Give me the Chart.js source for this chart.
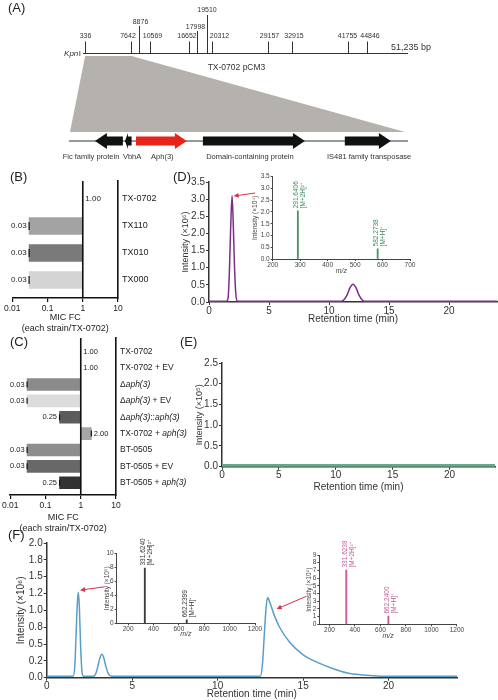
<!DOCTYPE html>
<html>
<head>
<meta charset="utf-8">
<script src="https://cdn.jsdelivr.net/npm/chart.js@4.4.1/dist/chart.umd.min.js"></script>
<style>
  html, body { margin: 0; padding: 0; background: #fff; }
  #fig { position: relative; width: 498px; height: 700px; overflow: hidden; background: #fff; }
  #fig canvas { position: absolute; }
</style>
</head>
<body>
<div id="fig">
  <canvas id="chartA"></canvas>
  <canvas id="chartB"></canvas>
  <canvas id="chartC"></canvas>
  <canvas id="chartD"></canvas>
  <canvas id="chartDi"></canvas>
  <canvas id="chartE"></canvas>
  <canvas id="chartF"></canvas>
  <canvas id="chartF1"></canvas>
  <canvas id="chartF2"></canvas>
</div>
<script>
// ---- (A) plasmid map ----
const plasmidName = 'TX-0702 pCM3';
const plasmidLength = 51235;
const siteLabels = ['336', '7642', '8876', '10569', '16652', '17998', '19510', '20312', '29157', '32915', '41755', '44846'];
const sitePositions = [336, 7642, 8876, 10569, 16652, 17998, 19510, 20312, 29157, 32915, 41755, 44846];
const insertStart = 336;
const insertEnd = 7642;
const geneNames = ['Fic family protein', 'VbhA', 'Aph(3)', 'Domain-containing protein', 'IS481 family transposase'];
const geneStarts = [880, 1535, 1775, 3235, 6330];
const geneEnds = [1490, 1680, 2885, 5460, 7335];
const geneStrands = [-1, -1, 1, 1, 1];

// ---- (B) / (C) MIC fold change ----
const micTicks = [0.01, 0.1, 1, 10];
const strainsB = ['TX-0702', 'TX110', 'TX010', 'TX000'];
const micB = [1.00, 0.03, 0.03, 0.03];
const strainsC = ['TX-0702', 'TX-0702 + EV', 'Δaph(3)', 'Δaph(3) + EV', 'Δaph(3)::aph(3)',
                  'TX-0702 + aph(3)', 'BT-0505', 'BT-0505 + EV', 'BT-0505 + aph(3)'];
const micC = [1.00, 1.00, 0.03, 0.03, 0.25, 2.00, 0.03, 0.03, 0.25];

// ---- (D) chromatogram + MS inset ----
const retentionTicks = [0, 5, 10, 15, 20];
const timeD = [0, 1.45, 1.6, 1.7, 1.8, 1.92, 2.02, 2.12, 2.22, 2.35, 2.6, 10.9, 11.2, 11.5, 11.75, 12.0, 12.25, 12.5, 12.8, 13.1, 24];
const intensityD = [0.02, 0.02, 0.15, 0.9, 2.1, 3.1, 2.3, 1.1, 0.3, 0.03, 0.02, 0.02, 0.05, 0.2, 0.42, 0.52, 0.42, 0.2, 0.05, 0.02, 0.02];
const yTicksD = [0, 0.5, 1.0, 1.5, 2.0, 2.5, 3.0, 3.5];
const mzD = [291.6406, 582.2738];
const ionIntensityD = [2.05, 0.43];
const ionLabelsD = [['291.6406', '[M+2H]²⁺'], ['582.2738', '[M+H]⁺']];
const mzTicksD = [200, 300, 400, 500, 600, 700];

// ---- (E) chromatogram ----
const timeE = [0, 24];
const intensityE = [0.02, 0.02];
const yTicksE = [0, 0.5, 1.0, 1.5, 2.0, 2.5];

// ---- (F) chromatogram + two MS insets ----
const timeF = [0, 1.55, 1.65, 1.72, 1.79, 1.85, 1.91, 1.98, 2.06, 2.15, 2.75, 2.9, 3.02, 3.12, 3.22, 3.32, 3.45, 3.6, 3.8,
               12.5, 12.62, 12.72, 12.82, 12.92, 13.05, 13.25, 13.6, 14.2, 15.0, 15.9, 16.8, 17.6, 18.5, 19.3, 20.5, 24];
const intensityF = [0.02, 0.02, 0.2, 0.65, 1.1, 1.27, 1.05, 0.5, 0.1, 0.02, 0.02, 0.08, 0.2, 0.3, 0.35, 0.31, 0.18, 0.06, 0.02,
                    0.02, 0.2, 0.6, 1.0, 1.19, 1.12, 0.97, 0.76, 0.53, 0.34, 0.22, 0.13, 0.07, 0.04, 0.025, 0.02, 0.02];
const yTicksF = [0, 0.25, 0.5, 0.75, 1.0, 1.25, 1.5, 1.75, 2.0];
const yTickLabelsF = ['0.0', '0.2', '0.5', '0.8', '1.0', '1.2', '1.5', '1.8', '2.0'];
const mzTicksF = [200, 400, 600, 800, 1000, 1200];
const mzF1 = [331.6240, 662.2399];
const ionIntensityF1 = [7.9, 0.5];
const ionLabelsF1 = [['331.6240', '[M+2H]²⁺'], ['662.2399', '[M+H]⁺']];
const ionTicksF1 = [0, 2, 4, 6, 8, 10];
const mzF2 = [331.6238, 662.2400];
const ionIntensityF2 = [7.05, 1.07];
const ionLabelsF2 = [['331.6238', '[M+2H]²⁺'], ['662.2400', '[M+H]⁺']];
const ionTicksF2 = [0, 1, 2, 3, 4, 5, 6, 7, 8, 9];

// ---- styling ----
const FAMILY = "'Liberation Sans', Arial, Helvetica, sans-serif";
const font = (size, style) => (style ? style + ' ' : '') + size + 'px ' + FAMILY;
Chart.defaults.font.family = FAMILY;
Chart.defaults.color = '#2b2b2b';
Chart.defaults.animation = false;
Chart.defaults.events = [];
Chart.defaults.plugins.legend.display = false;
Chart.defaults.plugins.tooltip.enabled = false;

const geneColors = ['#111', '#111', '#e8231c', '#111', '#111'];
const geneLabelAnchor = [795, 1690, 2350, 4260, 6860];
const siteTier = [0, 0, 2, 0, 0, 1, 3, 0, 0, 0, 0, 0];
const siteLabelShift = [0, -3.5, 1, 2, -2.5, -2, -0.5, 7, 1, 1.5, -1, 2.5];
const tierTickTop = [41.5, 31, 26, 15];
const tierLabelY = [36, 27.5, 22, 10];
const barColorsB = ['#888', '#a3a3a3', '#7a7a7a', '#d4d4d4'];
const barColorsC = ['#888', '#888', '#8b8b8b', '#dcdcdc', '#5c5c5c', '#a6a6a6', '#8e8e8e', '#686868', '#323232'];

function place(id, box) {
  const el = document.getElementById(id);
  el.width = box.w;
  el.height = box.h;
  el.style.left = box.x + 'px';
  el.style.top = box.y + 'px';
  el.style.width = box.w + 'px';
  el.style.height = box.h + 'px';
  return el;
}

// ---- small inline plugins ----
function panelLabel(text, x, y) {
  return {
    id: 'panelLabel',
    afterDraw(chart) {
      const ctx = chart.ctx;
      ctx.save();
      ctx.font = font(13);
      ctx.fillStyle = '#222';
      ctx.textAlign = 'left';
      ctx.textBaseline = 'middle';
      ctx.fillText(text, x, y);
      ctx.restore();
    }
  };
}

function drawGeneArrow(ctx, x0, x1, y, strand, color) {
  const body = 4.5, head = 8;
  const headLen = Math.min(12, (x1 - x0) * 0.45);
  ctx.fillStyle = color;
  ctx.beginPath();
  if (strand > 0) {
    ctx.moveTo(x0, y - body);
    ctx.lineTo(x1 - headLen, y - body);
    ctx.lineTo(x1 - headLen, y - head);
    ctx.lineTo(x1, y);
    ctx.lineTo(x1 - headLen, y + head);
    ctx.lineTo(x1 - headLen, y + body);
    ctx.lineTo(x0, y + body);
  } else {
    ctx.moveTo(x1, y - body);
    ctx.lineTo(x0 + headLen, y - body);
    ctx.lineTo(x0 + headLen, y - head);
    ctx.lineTo(x0, y);
    ctx.lineTo(x0 + headLen, y + head);
    ctx.lineTo(x0 + headLen, y + body);
    ctx.lineTo(x1, y + body);
  }
  ctx.closePath();
  ctx.fill();
}

function plasmidMap() {
  return {
    id: 'plasmidMap',
    afterDraw(chart) {
      const ctx = chart.ctx;
      const xs = chart.scales.x, xg = chart.scales.xg;
      const mapY = 53.5, fanTop = 56, fanBottom = 132, geneY = 141;
      ctx.save();

      // grey fan from the insert on the map down to the enlarged gene row
      ctx.fillStyle = '#b5b2ad';
      ctx.beginPath();
      ctx.moveTo(xs.getPixelForValue(insertStart), fanTop);
      ctx.lineTo(xs.getPixelForValue(insertEnd), fanTop);
      ctx.lineTo(xg.getPixelForValue(insertEnd), fanBottom);
      ctx.lineTo(xg.getPixelForValue(insertStart), fanBottom);
      ctx.closePath();
      ctx.fill();

      // backbone
      ctx.strokeStyle = '#333';
      ctx.lineWidth = 1;
      ctx.beginPath();
      ctx.moveTo(xs.getPixelForValue(0), mapY);
      ctx.lineTo(xs.getPixelForValue(plasmidLength), mapY);
      ctx.stroke();

      // sites
      ctx.font = font(7);
      ctx.fillStyle = '#333';
      ctx.textAlign = 'center';
      ctx.textBaseline = 'middle';
      sitePositions.forEach((bp, i) => {
        const px = Math.round(xs.getPixelForValue(bp)) + 0.5;
        const tier = siteTier[i];
        ctx.beginPath();
        ctx.moveTo(px, tierTickTop[tier]);
        ctx.lineTo(px, mapY);
        ctx.stroke();
        ctx.fillText(siteLabels[i], px + siteLabelShift[i], tierLabelY[tier]);
      });

      // Kpn I, length, name
      ctx.textAlign = 'right';
      ctx.font = font(8);
      ctx.fillText('I', 81, mapY);
      const wI = ctx.measureText('I').width;
      ctx.font = font(8, 'italic');
      ctx.fillText('Kpn', 81 - wI - 0.5, mapY);
      ctx.textAlign = 'center';
      ctx.font = font(9);
      ctx.fillText(plasmidLength.toLocaleString('en-US') + ' bp', 411, 47.5);
      ctx.font = font(8.5);
      ctx.fillText(plasmidName, 236.5, 68);

      // gene row
      ctx.beginPath();
      ctx.moveTo(xg.getPixelForValue(insertStart) - 1, geneY);
      ctx.lineTo(chart.chartArea.right, geneY);
      ctx.stroke();
      geneNames.forEach((name, i) => {
        drawGeneArrow(ctx, xg.getPixelForValue(geneStarts[i]), xg.getPixelForValue(geneEnds[i]),
                      geneY, geneStrands[i], geneColors[i]);
      });
      ctx.fillStyle = '#333';
      ctx.font = font(7.5);
      geneNames.forEach((name, i) => {
        ctx.fillText(name, xg.getPixelForValue(geneLabelAnchor[i]), 157);
      });
      ctx.restore();
    }
  };
}

function micMarks(values, capHalf, size) {
  return {
    id: 'micMarks',
    afterDatasetsDraw(chart) {
      const { ctx, chartArea } = chart;
      const xs = chart.scales.x, ys = chart.scales.y;
      const one = xs.getPixelForValue(1);
      ctx.save();
      ctx.strokeStyle = '#111';
      ctx.lineWidth = 1.6;
      ctx.beginPath();
      ctx.moveTo(one, chartArea.top);
      ctx.lineTo(one, chartArea.bottom);
      ctx.stroke();
      ctx.lineWidth = 1.2;
      ctx.font = font(size);
      ctx.fillStyle = '#222';
      ctx.textBaseline = 'middle';
      values.forEach((v, i) => {
        const px = xs.getPixelForValue(v), py = ys.getPixelForValue(i);
        if (v !== 1) {
          ctx.beginPath();
          ctx.moveTo(px, py - capHalf);
          ctx.lineTo(px, py + capHalf);
          ctx.stroke();
        }
        if (v < 1) {
          ctx.textAlign = 'right';
          ctx.fillText(v.toFixed(2), px - 2.5, py);
        } else {
          ctx.textAlign = 'left';
          ctx.fillText(v.toFixed(2), px + 2.5, py);
        }
      });
      ctx.restore();
    }
  };
}

// category labels with the gene name in italics
function richLabels(labels, size) {
  return {
    id: 'richLabels',
    afterDraw(chart) {
      const { ctx, chartArea } = chart;
      const ys = chart.scales.y;
      ctx.save();
      ctx.fillStyle = '#222';
      ctx.textAlign = 'left';
      ctx.textBaseline = 'middle';
      labels.forEach((label, i) => {
        let x = chartArea.right + 4;
        const y = ys.getPixelForValue(i);
        label.split(/(aph\(3\))/).forEach(part => {
          if (!part) return;
          ctx.font = font(size, part === 'aph(3)' ? 'italic' : '');
          ctx.fillText(part, x, y);
          x += ctx.measureText(part).width;
        });
      });
      ctx.restore();
    }
  };
}

function peakLabels(mz, intensity, labels, color) {
  return {
    id: 'peakLabels',
    afterDatasetsDraw(chart) {
      const ctx = chart.ctx;
      const xs = chart.scales.x, ys = chart.scales.y;
      ctx.save();
      ctx.fillStyle = color;
      ctx.font = font(6.5);
      ctx.textAlign = 'left';
      ctx.textBaseline = 'middle';
      mz.forEach((m, i) => {
        ctx.save();
        ctx.translate(xs.getPixelForValue(m), ys.getPixelForValue(intensity[i]) - 2.5);
        ctx.rotate(-Math.PI / 2);
        ctx.fillText(labels[i][0], 0, -1.5);
        ctx.fillText(labels[i][1], 0, 5.5);
        ctx.restore();
      });
      ctx.restore();
    }
  };
}

function arrows(list) {
  return {
    id: 'arrows',
    afterDatasetsDraw(chart) {
      const ctx = chart.ctx;
      const xs = chart.scales.x, ys = chart.scales.y;
      ctx.save();
      ctx.strokeStyle = '#d4334b';
      ctx.fillStyle = '#d4334b';
      ctx.lineWidth = 1;
      list.forEach(a => {
        const x0 = xs.getPixelForValue(a.from[0]), y0 = ys.getPixelForValue(a.from[1]);
        const x1 = xs.getPixelForValue(a.to[0]), y1 = ys.getPixelForValue(a.to[1]);
        const ang = Math.atan2(y1 - y0, x1 - x0);
        const c = Math.cos(ang), s = Math.sin(ang);
        ctx.beginPath();
        ctx.moveTo(x0, y0);
        ctx.lineTo(x1 - 4 * c, y1 - 4 * s);
        ctx.stroke();
        ctx.beginPath();
        ctx.moveTo(x1, y1);
        ctx.lineTo(x1 - 5 * c + 2.5 * s, y1 - 5 * s - 2.5 * c);
        ctx.lineTo(x1 - 5 * c - 2.5 * s, y1 - 5 * s + 2.5 * c);
        ctx.closePath();
        ctx.fill();
      });
      ctx.restore();
    }
  };
}

// ---- chart builders ----
function micAxis(height, size) {
  return {
    type: 'logarithmic', min: 0.01, max: 10,
    afterFit: s => { s.height = height; },
    afterBuildTicks: s => { s.ticks = micTicks.map(v => ({ value: v })); },
    ticks: { callback: v => String(v), font: { size: size }, padding: 2, maxRotation: 0, autoSkip: false, color: '#222' },
    grid: { display: true, drawOnChartArea: false, drawTicks: true, tickLength: 4, color: '#111', lineWidth: 1.2 },
    border: { color: '#111', width: 1.6 },
    title: { display: true, text: ['MIC FC', '(each strain/TX-0702)'], font: { size: 9 }, color: '#222', padding: { top: 0, bottom: 1 } }
  };
}

function micChart(id, box, area, strains, mic, colors, thickness, yRange, useTicks, plugins) {
  return new Chart(place(id, box), {
    type: 'bar',
    data: {
      datasets: [{
        data: mic.map((v, i) => ({ x: v < 1 ? [v, 1] : [1, v], y: i })),
        backgroundColor: colors,
        barThickness: thickness,
        borderWidth: 0
      }]
    },
    options: {
      responsive: false,
      indexAxis: 'y',
      layout: { padding: { left: area.l - box.x, top: area.t - box.y, right: 0, bottom: 0 } },
      scales: {
        x: micAxis(box.y + box.h - area.b, 8.5),
        y: {
          type: 'linear', position: 'right', reverse: true, min: yRange[0], max: yRange[1], offset: false,
          afterFit: s => { s.width = box.x + box.w - area.r; },
          afterBuildTicks: s => { s.ticks = strains.map((_, i) => ({ value: i })); },
          ticks: { display: useTicks, callback: v => strains[v], font: { size: 9 }, padding: 4, color: '#222' },
          grid: { display: false, drawTicks: false, offset: false },
          border: { color: '#111', width: 1.6 }
        }
      }
    },
    plugins: plugins
  });
}

function chromatogram(id, box, area, o) {
  return new Chart(place(id, box), {
    type: 'line',
    data: {
      datasets: [{
        data: o.time.map((t, i) => ({ x: t, y: o.intensity[i] })),
        borderColor: o.color,
        borderWidth: o.lineWidth,
        pointRadius: 0,
        cubicInterpolationMode: 'monotone',
        fill: false
      }]
    },
    options: {
      responsive: false,
      layout: { padding: { left: 0, top: area.t - box.y, right: box.x + box.w - area.r, bottom: 0 } },
      scales: {
        x: {
          type: 'linear', min: 0, max: 24,
          afterFit: s => { s.height = box.y + box.h - area.b; },
          afterBuildTicks: s => { s.ticks = retentionTicks.map(v => ({ value: v })); },
          ticks: { font: { size: o.tickSize }, padding: 0, maxRotation: 0, color: '#333' },
          grid: { drawOnChartArea: false, tickLength: 3, color: '#333' },
          border: { color: '#333', width: 1.5 },
          title: { display: true, text: 'Retention time (min)', font: { size: o.titleSize }, color: '#333', padding: { top: 0, bottom: o.xTitlePad } }
        },
        y: {
          type: 'linear', min: 0, max: o.yTicks[o.yTicks.length - 1],
          afterFit: s => { s.width = area.l - box.x; },
          afterBuildTicks: s => { s.ticks = o.yTicks.map(v => ({ value: v })); },
          ticks: { font: { size: o.tickSize }, padding: 1, color: '#333', callback: o.yLabel },
          grid: { drawOnChartArea: false, tickLength: 3, color: '#333' },
          border: { color: '#333', width: 1.5 },
          title: { display: true, text: o.yTitle, font: { size: o.yTitleSize || o.titleSize }, color: '#333', padding: { top: o.yTitlePad, bottom: 0 } }
        }
      }
    },
    plugins: o.plugins
  });
}

function spectrum(id, box, area, o) {
  return new Chart(place(id, box), {
    type: 'bar',
    data: {
      datasets: [{
        data: o.mz.map((m, i) => ({ x: m, y: o.intensity[i] })),
        backgroundColor: o.color,
        barThickness: 1.2,
        borderWidth: 0
      }]
    },
    options: {
      responsive: false,
      layout: { padding: { left: 0, top: area.t - box.y, right: box.x + box.w - area.r, bottom: 0 } },
      scales: {
        x: {
          type: 'linear', min: o.mzRange[0], max: o.mzRange[1], offset: false,
          afterFit: s => { s.height = box.y + box.h - area.b; },
          afterBuildTicks: s => { s.ticks = o.mzTicks.map(v => ({ value: v })); },
          ticks: { font: { size: 6.5 }, padding: 0, maxRotation: 0, autoSkip: false, color: '#444', callback: v => String(v) },
          grid: { offset: false, drawOnChartArea: false, tickLength: 2, color: '#444' },
          border: { color: '#444', width: 1 },
          title: { display: true, text: 'm/z', font: { size: 7, style: 'italic' }, color: '#444', padding: { top: 0, bottom: o.xTitlePad } }
        },
        y: {
          type: 'linear', min: 0, max: o.yTicks[o.yTicks.length - 1],
          afterFit: s => { s.width = area.l - box.x; },
          afterBuildTicks: s => { s.ticks = o.yTicks.map(v => ({ value: v })); },
          ticks: { font: { size: 6.5 }, padding: 1, autoSkip: false, color: '#444', callback: o.yLabel },
          grid: { drawOnChartArea: false, tickLength: 2, color: '#444' },
          border: { color: '#444', width: 1 },
          title: { display: true, text: o.yTitle, font: { size: 6.5 }, color: '#444', padding: { top: o.yTitlePad, bottom: 0 } }
        }
      }
    },
    plugins: [peakLabels(o.mz, o.intensity, o.labels, o.labelColor)]
  });
}

const oneDecimal = v => v.toFixed(1);

// (A)
new Chart(place('chartA', { x: 0, y: 0, w: 498, h: 168 }), {
  type: 'scatter',
  data: { datasets: [] },
  options: {
    responsive: false,
    layout: { padding: { left: 83, right: 90, top: 0, bottom: 0 } },
    scales: {
      x: { type: 'linear', min: 0, max: plasmidLength, display: false },
      xg: { type: 'linear', axis: 'x', position: 'bottom', min: 620, max: 7708, display: false },
      y: { type: 'linear', min: 0, max: 1, display: false }
    }
  },
  plugins: [plasmidMap(), panelLabel('(A)', 8, 8)]
});

// (B)
micChart('chartB', { x: 0, y: 170, w: 250, h: 165 }, { l: 12.3, t: 181, r: 118, b: 298 },
  strainsB, micB, barColorsB, 17, [-0.667, 3.667], true,
  [micMarks(micB, 4, 8), panelLabel('(B)', 10, 7)]);

// (C)
micChart('chartC', { x: 0, y: 335, w: 250, h: 200 }, { l: 7, t: 338, r: 116, b: 495 },
  strainsC, micC, barColorsC, 12, [-0.84, 8.75], false,
  [micMarks(micC, 3, 7.5), richLabels(strainsC, 8.5), panelLabel('(C)', 10, 7)]);

// (D)
chromatogram('chartD', { x: 165, y: 170, w: 333, h: 160 }, { l: 209, t: 182, r: 497, b: 302 }, {
  time: timeD, intensity: intensityD, color: '#7a2e8c', lineWidth: 1.5,
  yTicks: yTicksD, yLabel: oneDecimal, yTitle: 'Intensity (×10⁶)',
  tickSize: 10, titleSize: 10, yTitleSize: 9, xTitlePad: 4.5, yTitlePad: 15,
  plugins: [arrows([{ from: [3.85, 3.18], to: [2.05, 3.09] }]), panelLabel('(D)', 8, 7)]
});
spectrum('chartDi', { x: 225, y: 170, w: 200, h: 110 }, { l: 272.7, t: 176.7, r: 410, b: 259 }, {
  mz: mzD, intensity: ionIntensityD, labels: ionLabelsD, color: '#4e9468', labelColor: '#3d8a5c',
  mzRange: [200, 700], mzTicks: mzTicksD, yTicks: yTicksD, yLabel: oneDecimal,
  yTitle: 'Intensity (×10⁴)', xTitlePad: 5, yTitlePad: 26
});

// (E)
chromatogram('chartE', { x: 165, y: 330, w: 333, h: 170 }, { l: 222, t: 363, r: 495, b: 466.7 }, {
  time: timeE, intensity: intensityE, color: '#6aa88e', lineWidth: 3.5,
  yTicks: yTicksE, yLabel: oneDecimal, yTitle: 'Intensity (×10⁵)',
  tickSize: 10, titleSize: 10, yTitleSize: 9, xTitlePad: 6.5, yTitlePad: 29,
  plugins: [panelLabel('(E)', 15, 12)]
});

// (F)
chromatogram('chartF', { x: 0, y: 510, w: 498, h: 190 }, { l: 46.7, t: 543, r: 457, b: 677.7 }, {
  time: timeF, intensity: intensityF, color: '#5a9ec8', lineWidth: 1.5,
  yTicks: yTicksF, yLabel: (v, i) => yTickLabelsF[i], yTitle: 'Intensity (×10⁶)',
  tickSize: 10, titleSize: 10, xTitlePad: 0, yTitlePad: 15.7,
  plugins: [arrows([{ from: [3.4, 1.35], to: [1.95, 1.30] }, { from: [15.2, 1.21], to: [13.45, 1.02] }]),
            panelLabel('(F)', 8, 25)]
});
spectrum('chartF1', { x: 85, y: 530, w: 180, h: 115 }, { l: 116.7, t: 553.3, r: 255, b: 623.3 }, {
  mz: mzF1, intensity: ionIntensityF1, labels: ionLabelsF1, color: '#3a3a3a', labelColor: '#333',
  mzRange: [110, 1200], mzTicks: mzTicksF, yTicks: ionTicksF1, yLabel: v => String(v),
  yTitle: 'Intensity (×10⁵)', xTitlePad: 6.8, yTitlePad: 18.4
});
spectrum('chartF2', { x: 290, y: 530, w: 180, h: 115 }, { l: 319.3, t: 555, r: 456.9, b: 624.3 }, {
  mz: mzF2, intensity: ionIntensityF2, labels: ionLabelsF2, color: '#c85a9c', labelColor: '#c45b9a',
  mzRange: [120, 1200], mzTicks: mzTicksF, yTicks: ionTicksF2, yLabel: v => String(v),
  yTitle: 'Intensity (×10⁵)', xTitlePad: 4.8, yTitlePad: 15
});
</script>
</body>
</html>
